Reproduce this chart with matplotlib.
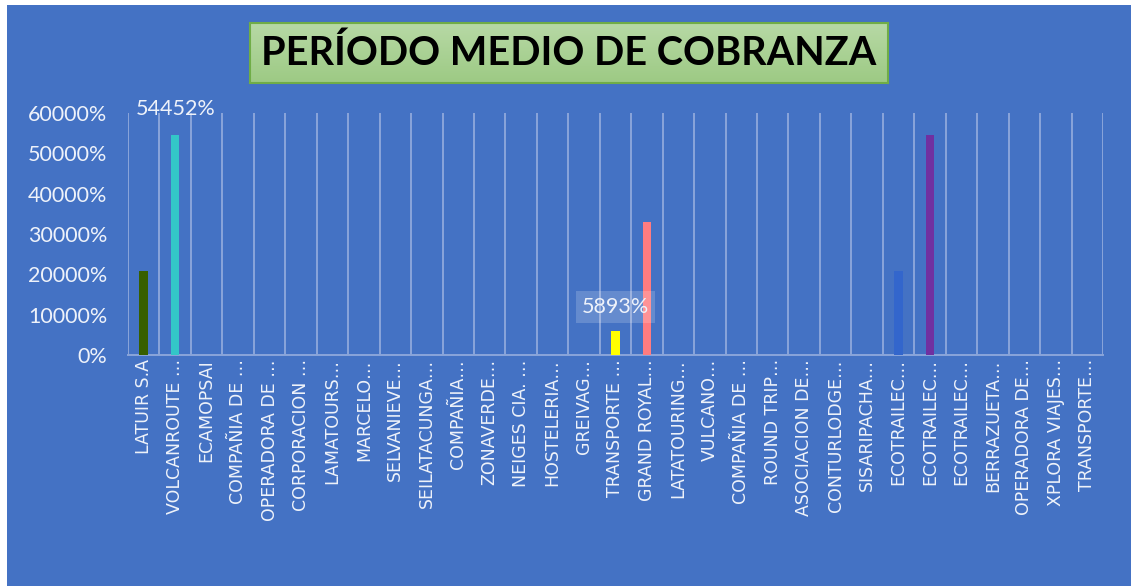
import matplotlib.pyplot as plt
import numpy as np
from matplotlib.patches import Rectangle
from matplotlib.colors import LinearSegmentedColormap

# empresas (truncated as in the sheet)
empresas = ["LATUIR S.A", "VOLCANROUTE …", "ECAMOPSAI", "COMPAÑIA DE …", "OPERADORA DE …",
            "CORPORACION …", "LAMATOURS…", "MARCELO…", "SELVANIEVE…", "SEILATACUNGA…",
            "COMPAÑIA…", "ZONAVERDE…", "NEIGES CIA. …", "HOSTELERIA…", "GREIVAG…",
            "TRANSPORTE …", "GRAND ROYAL…", "LATATOURING…", "VULCANO…", "COMPAÑIA DE …",
            "ROUND TRIP…", "ASOCIACION DE…", "CONTURLODGE…", "SISARIPACHA…", "ECOTRAILEC…",
            "ECOTRAILEC…", "ECOTRAILEC…", "BERRAZUETA…", "OPERADORA DE…", "XPLORA VIAJES…",
            "TRANSPORTE…"]
# periodo medio de cobranza in %
periodo = [20800, 54452, 0, 0, 0, 0, 0, 0, 0, 0, 0, 0, 0, 0, 0,
           5893, 33000, 0, 0, 0, 0, 0, 0, 0, 20800, 54452, 0, 0, 0, 0, 0]
colores = ["#375F00", "#33C6C8", None, None, None, None, None, None, None, None, None,
           None, None, None, None, "#FFFF00", "#FF7C80", None, None, None, None, None,
           None, None, "#3366CC", "#7030A0", None, None, None, None, None]
etiquetas = {1: "54452%", 15: "5893%"}
yticks = [0, 10000, 20000, 30000, 40000, 50000, 60000]

W, H = 1131, 586
fig = plt.figure(figsize=(W / 100, H / 100), dpi=100)
fig.patch.set_facecolor("white")
fig.patches.append(Rectangle((7 / W, 0), 1, 1 - 5 / H, transform=fig.transFigure,
                             facecolor="#4472C4", edgecolor="none", zorder=-10))

txt = "#EEF2FA"
ax = fig.add_axes([128 / W, 1 - 355 / H, (1103 - 128) / W, (355 - 113) / H])
ax.set_facecolor("none")
x = np.arange(len(empresas))
for i, v in enumerate(periodo):
    if v > 0:
        ax.bar(x[i], v, width=0.27, color=colores[i], zorder=3)

ax.set_xlim(-0.5, len(empresas) - 0.5)
ax.set_ylim(0, 60000)
for b in np.arange(-0.5, len(empresas), 1.0):
    ax.axvline(b, color="#8AA5DA", lw=1.4, zorder=1)
for s in ["top", "left", "right"]:
    ax.spines[s].set_visible(False)
ax.spines["bottom"].set_color("#8AA5DA")
ax.spines["bottom"].set_linewidth(1.4)

ax.set_yticks(yticks)
ax.set_yticklabels([f"{t}%" for t in yticks], color=txt, fontsize=15.5, family="Lato")
ax.set_xticks(x)
ax.set_xticklabels(empresas, rotation=90, color=txt, fontsize=12.5, family="DejaVu Sans",
                   ha="center", va="top")
ax.tick_params(axis="x", length=0, pad=3)
ax.tick_params(axis="y", length=0, pad=15)

for i, lab in etiquetas.items():
    if i == 1:
        ax.text(x[i], 61000, lab, ha="center", va="center", color=txt, fontsize=15.5,
                family="Lato", clip_on=False, zorder=5)
    else:
        ax.text(x[i], 11900, lab, ha="center", va="center", color=txt, fontsize=15.5,
                family="Lato", zorder=5,
                bbox=dict(facecolor="white", alpha=0.18, edgecolor="none", pad=4))

# title box
tax = fig.add_axes([250 / W, 1 - 83 / H, (888 - 250) / W, 60 / H])
grad = np.linspace(0, 1, 50).reshape(-1, 1)
cm = LinearSegmentedColormap.from_list("g", ["#B7D9A5", "#9DCA84"])
tax.imshow(grad, aspect="auto", cmap=cm, extent=[0, 1, 0, 1], origin="upper")
tax.set_xticks([])
tax.set_yticks([])
for s in tax.spines.values():
    s.set_color("#70AD47")
    s.set_linewidth(1.5)
tax.text(0.5, 0.5, "PERÍODO MEDIO DE COBRANZA", ha="center", va="center",
         fontsize=28.5, fontweight="bold", family="Lato", color="black",
         transform=tax.transAxes)

fig.savefig("out.png", dpi=100)
